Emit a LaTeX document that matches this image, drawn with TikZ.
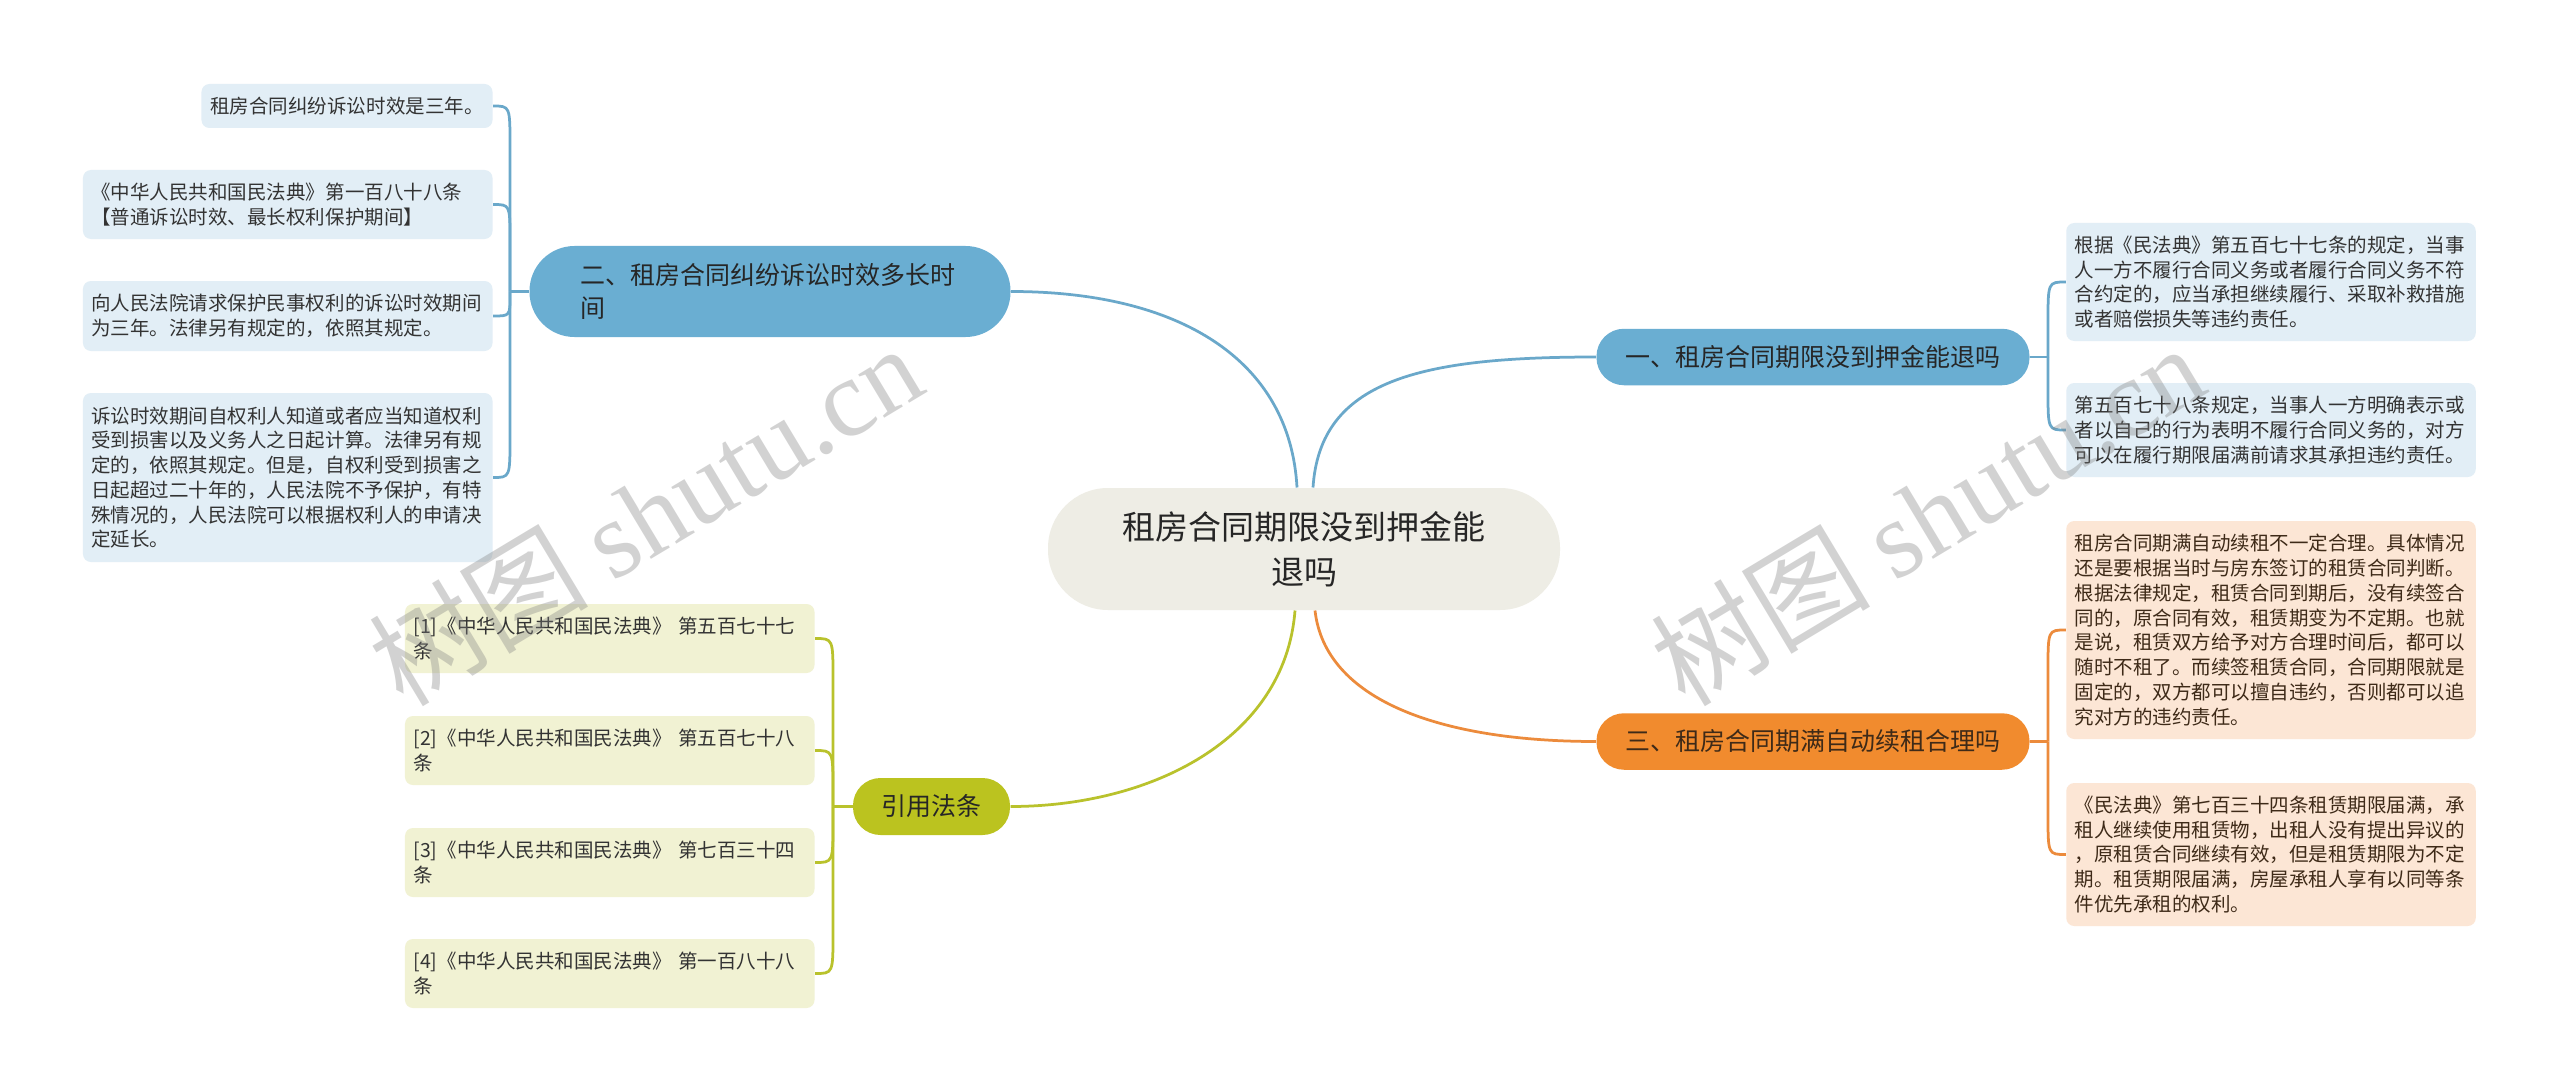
\documentclass[tikz,border=0pt]{standalone}
\usepackage{fontspec}
\setmainfont{Noto Sans CJK SC}
\newfontfamily\wmfont{Liberation Serif}
\usetikzlibrary{calc}
\definecolor{rootfill}{HTML}{EEEDE5}
\definecolor{bluefill}{HTML}{6AAED2}
\definecolor{blueline}{HTML}{6AA8CA}
\definecolor{blueleaf}{HTML}{E2EEF6}
\definecolor{orangefill}{HTML}{F18B2E}
\definecolor{orangeline}{HTML}{EC8B3C}
\definecolor{orangeleaf}{HTML}{FCE6D5}
\definecolor{olivefill}{HTML}{BBC31F}
\definecolor{oliveline}{HTML}{B9C22C}
\definecolor{oliveleaf}{HTML}{F1F2D3}
\definecolor{textdark}{HTML}{333333}
\definecolor{textbrown}{HTML}{3E2A18}

\begin{document}
\begin{tikzpicture}[x=0.4pt, y=-0.4pt,
  root/.style={fill=rootfill, rounded corners=24pt, minimum width=204.8pt,
    minimum height=48.8pt, align=center, text=black!85,
    font=\fontsize{13.2pt}{18pt}\selectfont},
  topic/.style={rounded corners=11pt, minimum width=173.2pt, minimum height=22.6pt,
    inner sep=0pt, text=black!85, font=\fontsize{10pt}{13.2pt}\selectfont},
  leafbox/.style={rounded corners=3.2pt, inner xsep=3.6pt, align=left,
    text=textdark, font=\fontsize{7.8pt}{9.9pt}\selectfont},
  leaf/.style={leafbox, text width=157pt, inner xsep=3.4pt},
  link/.style={line width=1.1pt},
  mark/.style={}]
  \fill[white] (0,0) rectangle (2560,1092);
  \useasboundingbox (0,0) rectangle (2560,1092);

  % centre and main topics
  \node[root] (root) at (1304,549) {租房合同期限没到押金能\\退吗};
  \node[topic, fill=bluefill] (b1) at (1813,357) {一、租房合同期限没到押金能退吗};
  \node[topic, fill=bluefill, minimum width=192.4pt, minimum height=36.4pt,
    rounded corners=18pt, text width=152pt, align=left] (b2) at (770,291.5)
    {二、租房合同纠纷诉讼时效多长时\\间};
  \node[topic, fill=orangefill, text=textbrown] (b3) at (1813,741.5) {三、租房合同期满自动续租合理吗};
  \node[topic, fill=olivefill, minimum width=62.8pt, minimum height=22.8pt] (b4) at (931.5,806.5) {引用法条};

  % topic one
  \node[leaf, fill=blueleaf, minimum height=47.2pt] (r1a) at (2271,282)
    {根据《民法典》第五百七十七条的规定，当事\\人一方不履行合同义务或者履行合同义务不符\\合约定的，应当承担继续履行、采取补救措施\\或者赔偿损失等违约责任。};
  \node[leaf, fill=blueleaf, minimum height=37.6pt] (r1b) at (2271,430)
    {第五百七十八条规定，当事人一方明确表示或\\者以自己的行为表明不履行合同义务的，对方\\可以在履行期限届满前请求其承担违约责任。};

  % topic three
  \node[leaf, fill=orangeleaf, text=textbrown, minimum height=87.2pt] (r3a) at (2271,630)
    {租房合同期满自动续租不一定合理。具体情况\\还是要根据当时与房东签订的租赁合同判断。\\根据法律规定，租赁合同到期后，没有续签合\\同的，原合同有效，租赁期变为不定期。也就\\是说，租赁双方给予对方合理时间后，都可以\\随时不租了。而续签租赁合同，合同期限就是\\固定的，双方都可以擅自违约，否则都可以追\\究对方的违约责任。};
  \node[leaf, fill=orangeleaf, text=textbrown, minimum height=57.2pt] (r3b) at (2271,854.5)
    {《民法典》第七百三十四条租赁期限届满，承\\租人继续使用租赁物，出租人没有提出异议的\\，原租赁合同继续有效，但是租赁期限为不定\\期。租赁期限届满，房屋承租人享有以同等条\\件优先承租的权利。};

  % topic two
  \node[leafbox, fill=blueleaf, anchor=east, minimum height=17.6pt] (l2a) at (493,106)
    {租房合同纠纷诉讼时效是三年。};
  \node[leaf, fill=blueleaf, anchor=east, minimum height=27.6pt] (l2b) at (493,204.5)
    {《中华人民共和国民法典》第一百八十八条\\【普通诉讼时效、最长权利保护期间】};
  \node[leaf, fill=blueleaf, anchor=east, minimum height=28pt] (l2c) at (493,316)
    {向人民法院请求保护民事权利的诉讼时效期间\\为三年。法律另有规定的，依照其规定。};
  \node[leaf, fill=blueleaf, anchor=east, minimum height=67.6pt] (l2d) at (493,477.5)
    {诉讼时效期间自权利人知道或者应当知道权利\\受到损害以及义务人之日起计算。法律另有规\\定的，依照其规定。但是，自权利受到损害之\\日起超过二十年的，人民法院不予保护，有特\\殊情况的，人民法院可以根据权利人的申请决\\定延长。};

  % cited articles
  \node[leaf, fill=oliveleaf, anchor=east, minimum height=27.6pt] (y1) at (815,638.5)
    {[1]《中华人民共和国民法典》 第五百七十七\\条};
  \node[leaf, fill=oliveleaf, anchor=east, minimum height=27.6pt] (y2) at (815,750.5)
    {[2]《中华人民共和国民法典》 第五百七十八\\条};
  \node[leaf, fill=oliveleaf, anchor=east, minimum height=27.6pt] (y3) at (815,862.5)
    {[3]《中华人民共和国民法典》 第七百三十四\\条};
  \node[leaf, fill=oliveleaf, anchor=east, minimum height=27.6pt] (y4) at (815,973.5)
    {[4]《中华人民共和国民法典》 第一百八十八\\条};

  % centre to topics
  \draw[link, blueline] ([xshift=3.6pt]root.north) .. controls (1320,380) and (1420,357) .. (b1.west);
  \draw[link, blueline] ([xshift=-2.8pt]root.north) .. controls (1290,360) and (1180,291.5) .. (b2.east);
  \draw[link, orangeline] ([xshift=4.4pt]root.south) .. controls (1325,700) and (1440,741.5) .. (b3.west);
  \draw[link, oliveline] ([xshift=-3.6pt]root.south) .. controls (1285,740) and (1150,806.5) .. (b4.east);

  % brackets
  \coordinate (j1) at (2048,357);
  \coordinate (j3) at (2048,741.5);
  \coordinate (j2) at (510,291.5);
  \coordinate (j4) at (833,806.5);
  \draw[link, blueline] (b1.east) -- (j1);
  \draw[link, orangeline] (b3.east) -- (j3);
  \draw[link, blueline] (b2.west) -- (j2);
  \draw[link, oliveline] (b4.west) -- (j4);
  \foreach \n/\k in {r1a/40, r1b/-40}
    \draw[link, blueline] (\n.west) .. controls (j1 |- \n.west) .. ($(j1 |- \n.west)+(0,\k)$) -- (j1);
  \foreach \n/\k in {r3a/40, r3b/-40}
    \draw[link, orangeline] (\n.west) .. controls (j3 |- \n.west) .. ($(j3 |- \n.west)+(0,\k)$) -- (j3);
  \foreach \n/\k in {l2a/40, l2b/35, l2c/-20, l2d/-40}
    \draw[link, blueline] (\n.east) .. controls (j2 |- \n.east) .. ($(j2 |- \n.east)+(0,\k)$) -- (j2);
  \foreach \n/\k in {y1/40, y2/40, y3/-40, y4/-40}
    \draw[link, oliveline] (\n.east) .. controls (j4 |- \n.east) .. ($(j4 |- \n.east)+(0,\k)$) -- (j4);

  % watermark
  \node[rotate=31, text=black!50, opacity=0.35, font=\fontsize{44pt}{44pt}\selectfont] (wm1) at (645,514)
    {树图 {\wmfont shutu.cn}};
  \node[rotate=31, text=black!50, opacity=0.35, font=\fontsize{44pt}{44pt}\selectfont] (wm2) at (1927,514)
    {树图 {\wmfont shutu.cn}};
\end{tikzpicture}
\end{document}
